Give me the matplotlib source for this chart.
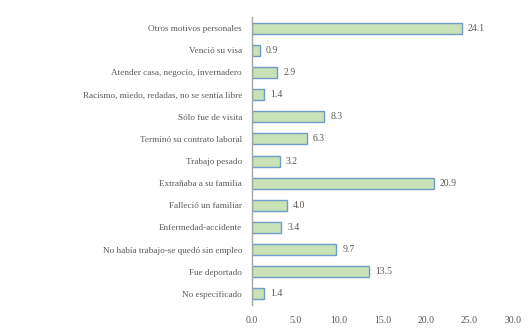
import numpy as np
import matplotlib.pyplot as plt

# ── Data ──────────────────────────────────────────────────────────────────────
categories = [
    "Otros motivos personales",
    "Venció su visa",
    "Atender casa, negocio, invernadero",
    "Racismo, miedo, redadas, no se sentía libre",
    "Sólo fue de visita",
    "Terminó su contrato laboral",
    "Trabajo pesado",
    "Extrañaba a su familia",
    "Falleció un familiar",
    "Enfermedad-accidente",
    "No había trabajo-se quedó sin empleo",
    "Fue deportado",
    "No especificado",
]
values = [24.1, 0.9, 2.9, 1.4, 8.3, 6.3, 3.2, 20.9, 4.0, 3.4, 9.7, 13.5, 1.4]
xticks = [0, 5, 10, 15, 20, 25, 30]

TEXT = "#595959"
plt.rcParams["font.family"] = ["Liberation Serif", "DejaVu Serif"]

fig = plt.figure(figsize=(5.29, 3.29), dpi=100)
ax = fig.add_axes([0.476, 0.073, 0.494, 0.875])

y = np.arange(len(categories))
ax.barh(y, values, height=0.5, color="#c9e2b8", edgecolor="#6f9cc8", linewidth=1.0)

for yi, v in zip(y, values):
    ax.text(v + 0.7, yi, f"{v:.1f}", va="center", ha="left", fontsize=7, color=TEXT)

ax.set_ylim(len(categories) - 0.5, -0.5)
ax.set_xlim(0, 30)
ax.set_yticks(y)
ax.set_yticklabels(categories, fontsize=6.6, color=TEXT)
ax.set_xticks(xticks)
ax.set_xticklabels([f"{t:.1f}" for t in xticks], fontsize=7, color=TEXT)
ax.tick_params(axis="both", length=0)
ax.tick_params(axis="y", pad=7)
ax.tick_params(axis="x", pad=8)

for s in ["top", "right", "bottom"]:
    ax.spines[s].set_visible(False)
ax.spines["left"].set_color("#a6a6a6")
ax.spines["left"].set_linewidth(1.0)

fig.savefig("out.png", dpi=100)
